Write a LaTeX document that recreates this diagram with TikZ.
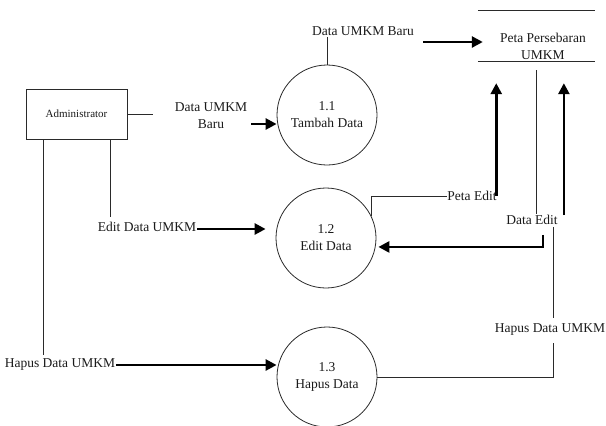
\documentclass[tikz,border=0pt]{standalone}
\usepackage{fontspec}
\setmainfont{Liberation Serif}
\usetikzlibrary{arrows.meta,calc}
\definecolor{lineDark}{HTML}{2A2A2A}
\definecolor{textMain}{HTML}{1A1A1A}

\begin{document}
\begin{tikzpicture}[x=1pt,y=-1pt,
    every node/.style={align=center,text=textMain,
                       font=\fontsize{13.5pt}{17pt}\selectfont},
    proc/.style={circle,draw=lineDark,line width=0.8pt,minimum size=100pt,inner sep=0pt},
    lbl/.style={inner sep=1pt},
    thinline/.style={draw=lineDark,line width=0.8pt},
    flow/.style={-{Triangle[length=11pt,width=11pt]},draw=black,line width=2.6pt}]
  \useasboundingbox (0,0) rectangle (606,426);

  % entity and data store
  \node[draw=lineDark,line width=0.8pt,minimum width=101pt,minimum height=50pt,
        font=\fontsize{11pt}{13pt}\selectfont]
        (admin) at (76.5,114) {Administrator};
  \node[minimum width=117pt,minimum height=50pt] (store) at (536.5,36) {};
  \node[lbl] (storetxt) at (543,46) {Peta Persebaran\\UMKM};
  \draw[thinline] (store.north west) -- (store.north east);
  \draw[thinline] (store.south west) -- (store.south east);
  \coordinate (tipline) at ($(store.south)+(0,22)$);

  % processes
  \node[proc] (p11) at (327,115) {1.1\\Tambah Data};
  \node[proc] (p12) at (326,238) {1.2\\Edit Data};
  \node[proc] (p13) at (327,377) {1.3\\Hapus Data};

  % flow labels
  \node[lbl] (lblbaru)  at (211,116) {Data UMKM\\Baru};
  \node[lbl] (lbltop)   at (363,31)  {Data UMKM Baru};
  \node[lbl] (lbledit)  at (147,227) {Edit Data UMKM};
  \node[lbl] (lblhapus) at (60,365)  {Hapus Data UMKM};
  \node[lbl,inner sep=0.5pt] (lblpeta) at (472,196) {Peta Edit};
  \node[lbl] (lbldata)  at (532,220) {Data Edit};
  \node[lbl] (lblhapusr) at (550,330) {Hapus Data UMKM};

  % tambah
  \draw[thinline] (admin.east) -- ++(26,0);
  \draw[flow] ($(lblbaru.east)+(3,8)$) coordinate (a) -- (a -| p11.west);
  \draw[thinline] (p11.north) -- (p11.north |- lbltop.south);
  \draw[flow] ($(lbltop.east)+(8,11)$) coordinate (b) -- ($(b -| store.west)+(5,0)$);

  % edit
  \draw[thinline] ($(admin.south)+(33.5,0)$) -- ($(admin.south |- lbledit.north)+(33.5,-4)$);
  \draw[flow] ($(lbledit.east)+(0,2)$) coordinate (c) -- ($(c -| p12.west)+(-10,0)$);
  \draw[thinline] (p12.26) |- (lblpeta.west);
  \draw[flow] ($(lblpeta.east)+(-1,0)$) coordinate (d) -- (d |- tipline);
  \draw[thinline] ($(store.south)+(0,9)$) -- (store.south |- lbldata.north);
  \draw[flow] ($(lbldata.north east)+(5,1)$) coordinate (e) -- (e |- tipline);
  \draw[flow] ($(lbldata.south)+(11,9)$) coordinate (f) -- ++(0,12) coordinate (g)
        -- ($(g -| p12.east)+(2,0)$);

  % hapus
  \draw[thinline] ($(admin.south)+(-33.5,0)$) -- ($(admin.south |- lblhapus.north)+(-33.5,-3)$);
  \draw[flow] (lblhapus.east) -- (lblhapus.east -| p13.west);
  \draw[thinline] ($(lbldata.south)+(21,1)$) coordinate (h) -- ($(h |- lblhapusr.north)+(0,-5)$);
  \draw[thinline] ($(h |- lblhapusr.south)+(0,6)$) |- (p13.east);
\end{tikzpicture}
\end{document}
